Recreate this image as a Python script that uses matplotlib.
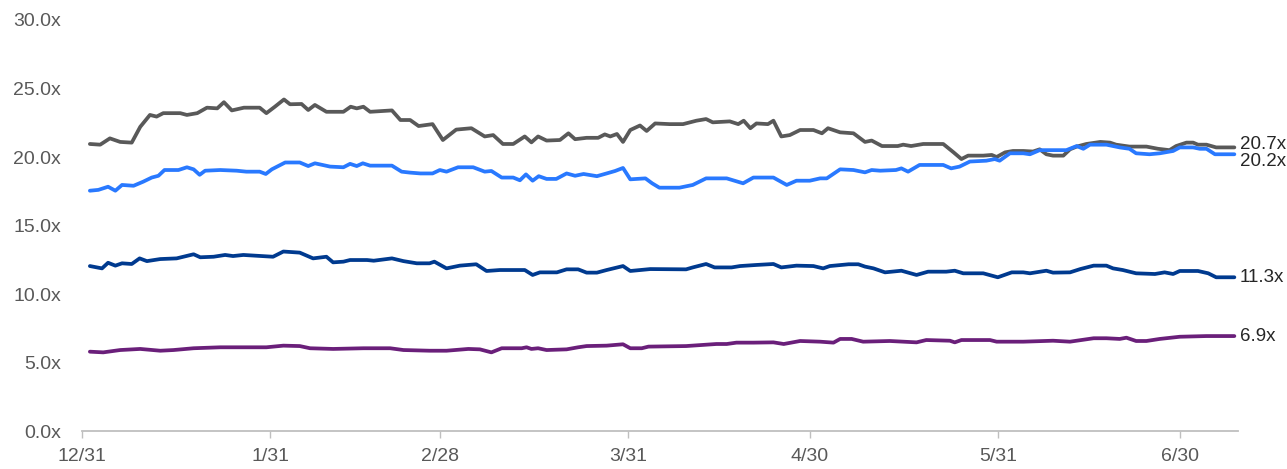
import matplotlib
matplotlib.use("Agg")
import matplotlib.pyplot as plt

# ---- data (day offsets from 12/31, values in x multiple) ----
tick_days = [0, 31, 59, 90, 120, 151, 181]
tick_labels = ["12/31", "1/31", "2/28", "3/31", "4/30", "5/31", "6/30"]
y_ticks = [0, 5, 10, 15, 20, 25, 30]

gray_days = [1.3, 3.0, 4.6, 6.3, 8.2, 9.6, 11.2, 12.3, 13.4, 16.2, 17.3, 19.0, 20.6, 22.3, 23.4, 24.7,
             26.7, 29.3, 30.4, 31.8, 33.3, 34.3, 36.2, 37.3, 38.4, 40.3, 43.1, 44.3, 45.3, 46.4, 47.5,
             51.1, 52.5, 54.1, 55.5, 57.8, 59.5, 61.7, 64.2, 66.4, 67.8, 69.4, 71.1, 73.0, 74.1, 75.2,
             76.6, 78.8, 80.2, 81.3, 83.2, 85.1, 86.2, 87.1, 88.2, 89.2, 90.4, 92.0, 93.1, 94.5, 96.9,
             99.1, 101.3, 102.9, 104.0, 106.8, 108.2, 109.1, 110.2, 111.2, 113.1, 114.0, 115.3, 116.7,
             118.4, 120.6, 122.0, 123.0, 125.0, 127.2, 129.1, 130.2, 131.9, 134.5, 135.4, 136.7, 138.7,
             142.0, 143.7, 145.0, 146.1, 148.6, 150.0, 150.8, 152.2, 153.5, 155.2, 156.8, 157.9, 159.0,
             160.1, 161.8, 162.9, 164.0, 165.6, 167.9, 169.5, 170.5, 172.7, 175.5, 177.4, 179.3, 180.4,
             182.1, 183.2, 184.0, 185.4, 187.0, 190.0]
gray_vals = [20.95, 20.9, 21.36, 21.1, 21.05, 22.2, 23.07, 22.95, 23.2, 23.2, 23.07, 23.2, 23.6, 23.55, 24.0, 23.4,
             23.6, 23.6, 23.2, 23.67, 24.2, 23.85, 23.87, 23.43, 23.8, 23.3, 23.3, 23.67, 23.55, 23.67, 23.3,
             23.4, 22.7, 22.7, 22.26, 22.4, 21.24, 22.0, 22.1, 21.5, 21.6, 20.95, 20.95, 21.5, 21.07, 21.5,
             21.2, 21.24, 21.73, 21.3, 21.4, 21.4, 21.65, 21.5, 21.68, 21.1, 21.97, 22.3, 21.9, 22.45, 22.4,
             22.4, 22.65, 22.77, 22.53, 22.6, 22.4, 22.65, 22.1, 22.45, 22.4, 22.65, 21.5, 21.6,
             21.97, 21.97, 21.73, 22.1, 21.8, 21.73, 21.1, 21.2, 20.8, 20.8, 20.9, 20.8, 20.95,
             20.95, 20.34, 19.85, 20.1, 20.1, 20.15, 20.0, 20.34, 20.44, 20.44, 20.4, 20.56, 20.2,
             20.1, 20.1, 20.56, 20.76, 20.95, 21.1, 21.05, 20.9, 20.76, 20.76, 20.6, 20.5, 20.8,
             21.05, 21.05, 20.9, 20.9, 20.7, 20.7]

blue_days = [1.3, 2.7, 4.3, 5.5, 6.6, 8.5, 10.1, 11.5, 12.6, 13.6, 15.9, 17.3, 18.4, 19.4, 20.3, 22.8,
             25.5, 27.1, 29.3, 30.3, 31.3, 33.5, 35.9, 37.3, 38.4, 40.9, 43.1, 44.2, 45.3, 46.3, 47.5,
             51.1, 52.7, 54.1, 55.8, 57.8, 59.0, 60.1, 62.0, 64.5, 66.4, 67.5, 69.2, 71.1, 72.2, 73.2,
             74.3, 75.3, 76.6, 78.2, 79.9, 81.3, 82.7, 84.9, 86.5, 87.9, 89.2, 90.4, 92.9, 94.0, 95.2,
             98.5, 100.7, 102.9, 106.3, 109.0, 110.7, 114.0, 116.2, 117.8, 120.0, 121.7, 122.8, 125.0,
             127.2, 129.1, 130.2, 131.6, 134.2, 135.1, 136.2, 138.1, 142.0, 143.3, 144.7, 146.4, 149.1,
             150.5, 151.3, 153.0, 155.2, 156.3, 157.9, 162.3, 164.0, 165.1, 166.2, 168.9, 171.1, 172.7,
             173.8, 176.0, 177.7, 179.9, 181.0, 183.2, 184.3, 185.4, 186.8, 187.9, 190.0]
blue_vals = [17.54, 17.6, 17.83, 17.54, 17.96, 17.9, 18.2, 18.5, 18.63, 19.05, 19.05, 19.25, 19.1, 18.7, 19.0, 19.05,
             19.0, 18.93, 18.93, 18.76, 19.1, 19.6, 19.6, 19.34, 19.54, 19.3, 19.25, 19.5, 19.34, 19.54, 19.37,
             19.37, 18.93, 18.86, 18.8, 18.8, 19.05, 18.93, 19.25, 19.25, 18.93, 18.98, 18.5, 18.5, 18.3, 18.73,
             18.27, 18.6, 18.4, 18.4, 18.8, 18.63, 18.76, 18.6, 18.8, 18.98, 19.2, 18.37, 18.44, 18.08, 17.76,
             17.76, 17.96, 18.44, 18.44, 18.08, 18.5, 18.5, 17.96, 18.27, 18.27, 18.44, 18.44, 19.1,
             19.05, 18.88, 19.05, 19.0, 19.05, 19.17, 18.93, 19.42, 19.42, 19.17, 19.3, 19.67, 19.73,
             19.85, 19.73, 20.27, 20.27, 20.2, 20.5, 20.5, 20.8, 20.6, 20.9, 20.9, 20.7, 20.6,
             20.27, 20.2, 20.27, 20.44, 20.7, 20.7, 20.6, 20.6, 20.2, 20.2, 20.2]

navy_days = [1.3, 3.3, 4.3, 5.5, 6.6, 8.2, 9.5, 10.7, 12.9, 15.6, 18.4, 19.5, 21.7, 23.6, 24.9, 26.6,
             31.5, 33.2, 35.9, 38.1, 40.3, 41.4, 43.1, 44.2, 47.0, 48.1, 51.1, 53.0, 55.2, 57.3, 58.1,
             60.1, 62.3, 65.0, 66.7, 68.9, 73.0, 74.3, 75.5, 78.3, 79.9, 81.8, 83.2, 84.9, 86.5, 89.2,
             90.4, 93.7, 99.6, 100.7, 102.9, 104.3, 107.1, 108.5, 111.2, 114.0, 115.3, 117.8, 120.6,
             122.2, 123.3, 126.4, 128.0, 129.1, 130.5, 132.4, 135.1, 137.6, 139.5, 142.5, 143.9, 145.3,
             148.6, 151.0, 153.3, 155.2, 156.3, 159.0, 160.1, 162.9, 164.6, 166.8, 168.9, 170.0, 171.6,
             173.8, 176.9, 178.5, 179.9, 181.0, 184.0, 185.7, 187.0, 190.0]
navy_vals = [12.04, 11.87, 12.28, 12.07, 12.24, 12.19, 12.6, 12.4, 12.55, 12.6, 12.9, 12.68, 12.72, 12.85, 12.77, 12.85,
             12.72, 13.1, 13.02, 12.6, 12.72, 12.31, 12.36, 12.48, 12.48, 12.43, 12.6, 12.4, 12.24, 12.24, 12.36,
             11.87, 12.07, 12.17, 11.68, 11.75, 11.75, 11.39, 11.58, 11.58, 11.8, 11.8, 11.56, 11.56, 11.75, 12.04,
             11.68, 11.82, 11.8, 11.94, 12.19, 11.94, 11.94, 12.04, 12.12, 12.19, 11.94, 12.07, 12.04,
             11.87, 12.04, 12.17, 12.17, 12.0, 11.87, 11.58, 11.7, 11.39, 11.63, 11.63, 11.7, 11.51,
             11.51, 11.22, 11.58, 11.58, 11.51, 11.7, 11.56, 11.58, 11.82, 12.07, 12.07, 11.87, 11.75,
             11.51, 11.46, 11.58, 11.46, 11.68, 11.68, 11.51, 11.22, 11.22]

purple_days = [1.3, 3.5, 6.3, 9.6, 12.9, 15.1, 18.4, 22.8, 27.1, 30.4, 33.2, 35.9, 37.6, 41.4, 46.4, 50.8,
               53.0, 57.3, 60.1, 63.7, 65.6, 67.5, 69.2, 72.5, 73.3, 74.1, 75.2, 76.6, 79.9, 81.8, 83.2,
               86.5, 89.2, 90.4, 92.3, 93.4, 99.6, 104.6, 106.3, 107.9, 110.7, 114.0, 115.7, 118.4, 121.7,
               123.9, 125.0, 126.9, 128.8, 133.2, 137.6, 139.2, 143.1, 143.9, 145.0, 149.7, 150.8, 155.2,
               160.1, 162.9, 166.8, 168.9, 171.1, 172.2, 173.8, 175.5, 177.7, 181.0, 185.4, 190.0]
purple_vals = [5.79, 5.74, 5.91, 5.99, 5.86, 5.91, 6.04, 6.11, 6.11, 6.11, 6.23, 6.2, 6.04, 5.99, 6.04, 6.04,
               5.91, 5.86, 5.86, 5.99, 5.96, 5.74, 6.04, 6.04, 6.11, 5.99, 6.04, 5.91, 5.96, 6.11, 6.2,
               6.23, 6.33, 6.04, 6.04, 6.16, 6.2, 6.35, 6.35, 6.45, 6.45, 6.47, 6.35, 6.57, 6.52,
               6.45, 6.72, 6.72, 6.52, 6.57, 6.47, 6.64, 6.59, 6.47, 6.64, 6.64, 6.52, 6.52,
               6.59, 6.52, 6.77, 6.77, 6.72, 6.81, 6.57, 6.57, 6.72, 6.88, 6.93, 6.93]

end_labels = ["20.7x", "20.2x", "11.3x", "6.9x"]

# ---- styling ----
colors = ["#595959", "#2979FF", "#003A8F", "#6A1F7A"]
label_dy_px = [3, -7, 0, 0]

plt.rcParams["font.family"] = ["Liberation Sans", "DejaVu Sans"]

fig = plt.figure(figsize=(12.87, 4.69), dpi=100)
ax = fig.add_axes([82 / 1287, 38 / 469, 1156 / 1287, 411 / 469])

series = [(gray_days, gray_vals), (blue_days, blue_vals), (navy_days, navy_vals), (purple_days, purple_vals)]
for (d, v), c, lab, dy in zip(series, colors, end_labels, label_dy_px):
    ax.plot(d, v, color=c, lw=2.7, solid_joinstyle="round", solid_capstyle="round", clip_on=False, zorder=3)
    ax.annotate(lab, xy=(d[-1], v[-1]), xytext=(4.0, dy * 0.72), textcoords="offset points",
                ha="left", va="center", fontsize=13.5, color="#262626", annotation_clip=False)

ax.set_xlim(0, 190.6)
ax.set_ylim(0, 30)
ax.set_xticks(tick_days)
ax.set_xticklabels(tick_labels)
ax.set_yticks(y_ticks)
ax.set_yticklabels([f"{t:.1f}x" for t in y_ticks])

for s in ["top", "right", "left"]:
    ax.spines[s].set_visible(False)
ax.spines["bottom"].set_color("#BFBFBF")
ax.spines["bottom"].set_linewidth(1.3)

ax.tick_params(axis="x", direction="out", length=5, width=1, color="#BFBFBF",
               labelsize=14, labelcolor="#595959", pad=7)
ax.tick_params(axis="y", length=0, labelsize=14, labelcolor="#595959", pad=15)

fig.savefig("out.png", dpi=100)
